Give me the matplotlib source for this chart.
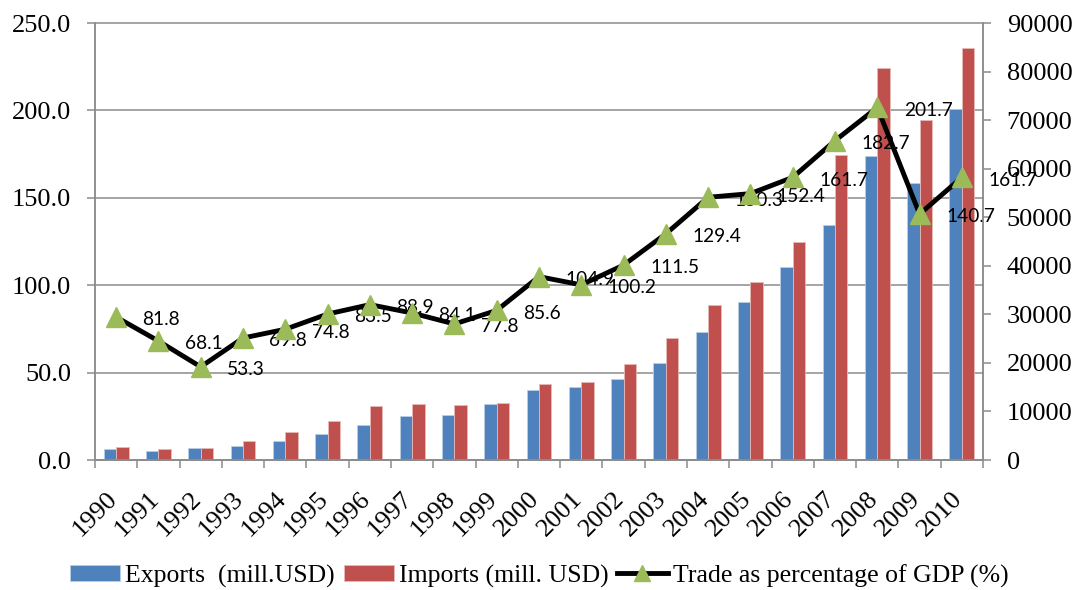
import matplotlib.pyplot as plt
import matplotlib.transforms as mtransforms
import numpy as np

# data
years = ['1990', '1991', '1992', '1993', '1994', '1995', '1996', '1997', '1998', '1999', '2000',
         '2001', '2002', '2003', '2004', '2005', '2006', '2007', '2008', '2009', '2010']
exports = [2270, 1920, 2470, 2880, 3900, 5350, 7200, 9100, 9300, 11500, 14400,
           15000, 16700, 20000, 26400, 32500, 39800, 48500, 62700, 57100, 72300]
imports = [2680, 2200, 2400, 3850, 5700, 8100, 11100, 11500, 11400, 11700, 15600,
           16100, 19700, 25100, 31900, 36700, 44800, 62800, 80700, 70000, 84800]
trade_pct = [81.8, 68.1, 53.3, 69.8, 74.8, 83.5, 88.9, 84.1, 77.8, 85.6, 104.9,
             100.2, 111.5, 129.4, 150.3, 152.4, 161.7, 182.7, 201.7, 140.7, 161.7]
left_ticks = [0, 50, 100, 150, 200, 250]
right_ticks = [0, 10000, 20000, 30000, 40000, 50000, 60000, 70000, 80000, 90000]

BLUE = '#4F81BD'
RED = '#C0504D'
GREEN = '#9BBB59'
GRAY = '#8c8c8c'
SERIF = 'Liberation Serif'

fig = plt.figure(figsize=(10.78, 5.9), dpi=100)
ax = fig.add_axes([0.0881, 0.2203, 0.8238, 0.7407])
axb = ax.twinx()
ax.set_zorder(axb.get_zorder() + 1)
ax.patch.set_visible(False)

x = np.arange(len(years))
w = 0.295

# bars on the right axis
b1 = axb.bar(x - w / 2, exports, w, color=BLUE, edgecolor='#b9cde5', linewidth=0.6,
             label='Exports  (mill.USD)', zorder=2)
b2 = axb.bar(x + w / 2, imports, w, color=RED, edgecolor='#e6b9b8', linewidth=0.6,
             label='Imports (mill. USD)', zorder=2)

# horizontal grid follows the left axis, but sits behind the bars
for v in left_ticks:
    axb.plot([0, 1], [v, v], transform=ax.get_yaxis_transform(), color=GRAY,
             linewidth=1.1, zorder=1, clip_on=False)

# trade line on the left axis
ln, = ax.plot(x, trade_pct, color='black', linewidth=3.5, marker='^', markersize=15,
              markerfacecolor=GREEN, markeredgecolor=GREEN, zorder=3,
              label='Trade as percentage of GDP (%)')
for xi, v in zip(x, trade_pct):
    ax.annotate(f'{v:.1f}', (xi, v), xytext=(19, -2), textcoords='offset points',
                ha='left', va='center', fontsize=13.8, family='Lato', zorder=2,
                annotation_clip=False)

ax.set_xlim(-0.5, len(years) - 0.5)
ax.set_ylim(0, 250)
axb.set_ylim(0, 90000)

ax.set_yticks(left_ticks)
ax.set_yticklabels([f'{v:.1f}' for v in left_ticks], fontsize=19, family=SERIF)
axb.set_yticks(right_ticks)
axb.set_yticklabels([str(v) for v in right_ticks], fontsize=19, family=SERIF)

ax.set_xticks(x)
ax.set_xticklabels(years, rotation=45, ha='right', fontsize=19, family=SERIF)
ax.set_xticks(np.arange(len(years) + 1) - 0.5, minor=True)
ax.tick_params(axis='x', which='major', length=0, pad=20)
ax.tick_params(axis='x', which='minor', length=6, width=1.1, color=GRAY)
ax.tick_params(axis='y', length=6, width=1.1, color=GRAY, pad=11)
axb.tick_params(axis='y', length=6, width=1.1, color=GRAY, pad=11)
shift = mtransforms.ScaledTranslation(5 / 100, 0, fig.dpi_scale_trans)
for lab in ax.get_xticklabels():
    lab.set_transform(lab.get_transform() + shift)

for a in (ax, axb):
    a.spines['top'].set_visible(False)
    for s in ('left', 'right', 'bottom'):
        a.spines[s].set_color(GRAY)
        a.spines[s].set_linewidth(1.1)

fig.legend([b1, b2, ln], [b1.get_label(), b2.get_label(), ln.get_label()],
           loc='lower center', bbox_to_anchor=(0.5, -0.035), ncol=3, frameon=False,
           prop={'family': SERIF, 'size': 18.5}, handlelength=1.95, handleheight=0.6,
           handletextpad=0.2, columnspacing=0.35, markerscale=0.8)

fig.savefig('out.png', dpi=100)
